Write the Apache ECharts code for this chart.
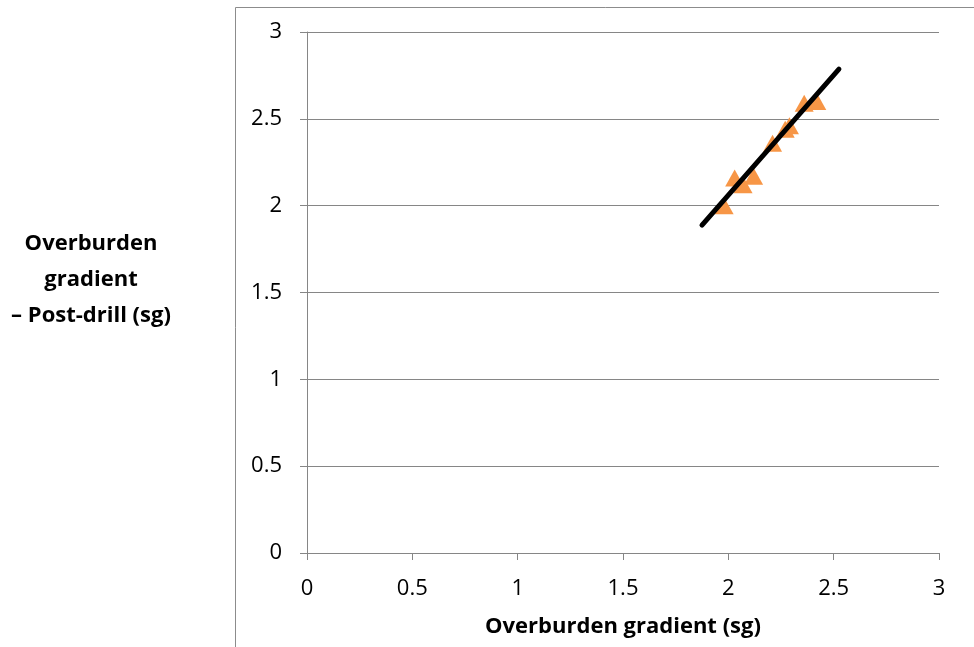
<!DOCTYPE html>
<html>
<head>
<meta charset="utf-8">
<script src="https://cdn.jsdelivr.net/npm/echarts@6/dist/echarts.min.js"></script>
<style>html,body{margin:0;padding:0;background:#fff}#c{width:974px;height:647px}</style>
</head>
<body>
<div id="c"></div>
<script>
var xTitle = 'Overburden gradient (sg)';
var yTitleLines = ['Overburden', 'gradient', '\u2013 Post-drill (sg)'];
var pointsX = [1.98, 2.03, 2.07, 2.12, 2.21, 2.27, 2.29, 2.36, 2.42];
var pointsY = [2.00, 2.16, 2.12, 2.17, 2.36, 2.44, 2.46, 2.59, 2.60];
var trendX = [1.875, 2.525];
var trendY = [1.888, 2.786];

var font = 'Open Sans';
var chart = echarts.init(document.getElementById('c'), null, {renderer: 'canvas'});
var scatterData = pointsX.map(function (x, i) { return [x, pointsY[i]]; });
var trendData = trendX.map(function (x, i) { return [x, trendY[i]]; });

chart.setOption({
  animation: false,
  backgroundColor: '#fff',
  grid: {left: 307, right: 35, top: 32, bottom: 94},
  graphic: [
    {type: 'rect', shape: {x: 235.5, y: 7.5, width: 900, height: 800}, style: {fill: 'none', stroke: '#8c8c8c', lineWidth: 1}, silent: true, z: -1},
    {type: 'text', x: 91, y: 226, style: {text: yTitleLines.join('\n'), font: 'bold 22px ' + font, fill: '#000', align: 'center', verticalAlign: 'top', lineHeight: 36}, silent: true}
  ],
  xAxis: {
    type: 'value', min: 0, max: 3, interval: 0.5,
    name: xTitle, nameLocation: 'middle', nameGap: 63,
    nameTextStyle: {fontFamily: font, fontWeight: 'bold', fontSize: 22, color: '#000'},
    axisLine: {show: true, lineStyle: {color: '#868686', width: 1}},
    axisTick: {show: true, inside: false, length: 7, lineStyle: {color: '#868686'}},
    axisLabel: {margin: 25, fontFamily: font, fontSize: 22, color: '#000'},
    splitLine: {show: false}
  },
  yAxis: {
    type: 'value', min: 0, max: 3, interval: 0.5,
    axisLine: {show: true, lineStyle: {color: '#868686', width: 1}},
    axisTick: {show: true, inside: false, length: 7, lineStyle: {color: '#868686'}},
    axisLabel: {margin: 25, fontFamily: font, fontSize: 22, color: '#000'},
    splitLine: {show: true, lineStyle: {color: '#868686', width: 1}}
  },
  series: [
    {type: 'scatter', data: scatterData, symbol: 'triangle', symbolSize: [19, 17],
     itemStyle: {color: '#F79646', opacity: 1}, z: 2},
    {type: 'line', data: trendData, symbol: 'none', lineStyle: {color: '#000', width: 5, cap: 'round'}, z: 3}
  ]
});
</script>
</body>
</html>
